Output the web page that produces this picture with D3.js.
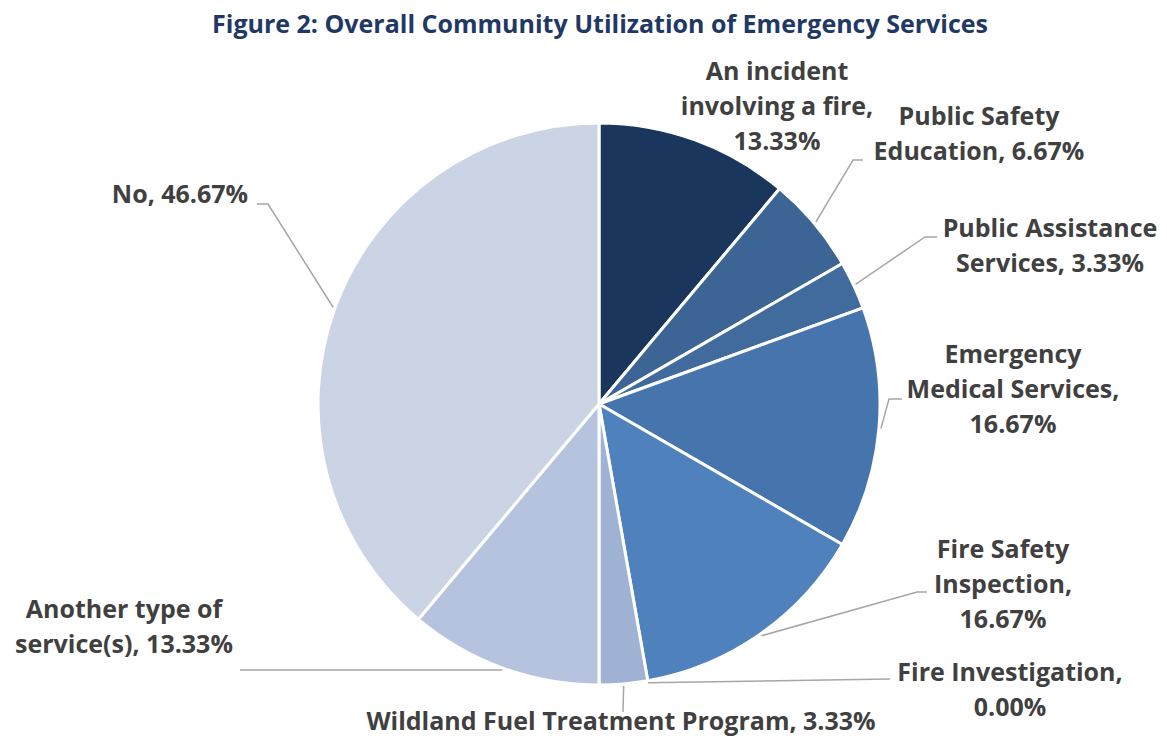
<!DOCTYPE html>
<html>
<head>
<meta charset="utf-8">
<script src="https://cdn.jsdelivr.net/npm/d3@7"></script>
<style>
  html, body { margin: 0; padding: 0; background: #ffffff; }
  svg { display: block; }
  text { font-family: "Open Sans", Lato, sans-serif; font-weight: 700; }
</style>
</head>
<body>
<svg id="chart" width="1167" height="740"></svg>
<script>
// ---- Data ----
const title = "Figure 2: Overall Community Utilization of Emergency Services";
const categories = [
  "An incident involving a fire",
  "Public Safety Education",
  "Public Assistance Services",
  "Emergency Medical Services",
  "Fire Safety Inspection",
  "Fire Investigation",
  "Wildland Fuel Treatment Program",
  "Another type of service(s)",
  "No"
];
const values = [13.33, 6.67, 3.33, 16.67, 16.67, 0.00, 3.33, 13.33, 46.67];
const colors = ["#1a365d", "#3c6494", "#416a9d", "#4674ac", "#4f81bd", "#8ea7d0", "#9fb2d4", "#b5c3de", "#cbd4e5"];
// label line breaks (text content)
const labelLines = [
  ["An incident", "involving a fire,", "13.33%"],
  ["Public Safety", "Education, 6.67%"],
  ["Public Assistance", "Services, 3.33%"],
  ["Emergency", "Medical Services,", "16.67%"],
  ["Fire Safety", "Inspection,", "16.67%"],
  ["Fire Investigation,", "0.00%"],
  ["Wildland Fuel Treatment Program, 3.33%"],
  ["Another type of", "service(s), 13.33%"],
  ["No, 46.67%"]
];

// ---- Layout (positions only) ----
const cx = 599, cy = 404, R = 281;
// label centre x and first baseline y
const labelPos = [
  [777, 80], [979, 125], [1050, 237], [1013, 363], [1003, 558],
  [1010, 681], [621, 730], [124, 618], [180, 203]
];
// leader: [elbowX, elbowY, endX, endY] or null
const leaderPos = [
  null,
  [853, 160, 863, 160],
  [925, 237, 937, 237],
  [889, 399, 902, 399],
  [917, 592, 927, 592],
  [890, 679, 890, 679],
  [623, 712, 623, 712],
  [240, 670, 240, 670],
  [268, 204, 257, 204]
];

const data = categories.map((c, i) => ({ name: c, value: values[i], color: colors[i], lines: labelLines[i], pos: labelPos[i], leader: leaderPos[i] }));

const svg = d3.select("#chart");

svg.append("text")
  .attr("x", 600).attr("y", 33)
  .attr("text-anchor", "middle")
  .attr("fill", "#1f3864")
  .style("font-size", "25px")
  .text(title);

const pie = d3.pie().sort(null).value(d => d.value).startAngle(0).endAngle(2 * Math.PI);
const arcs = pie(data);
const arc = d3.arc().innerRadius(0).outerRadius(R);

const g = svg.append("g").attr("transform", `translate(${cx},${cy})`);

g.selectAll("path.slice")
  .data(arcs.filter(a => a.data.value > 0))
  .join("path")
  .attr("class", "slice")
  .attr("d", arc)
  .attr("fill", d => d.data.color)
  .attr("stroke", "#ffffff")
  .attr("stroke-width", 3)
  .attr("stroke-linejoin", "round");

// leader lines
arcs.forEach(a => {
  const L = a.data.leader;
  if (!L) return;
  const mid = (a.startAngle + a.endAngle) / 2;
  const r0 = R + 2;
  const sx = cx + r0 * Math.sin(mid), sy = cy - r0 * Math.cos(mid);
  const pts = [[sx, sy], [L[0], L[1]], [L[2], L[3]]];
  svg.append("path")
    .attr("d", d3.line()(pts))
    .attr("fill", "none")
    .attr("stroke", "#a6a6a6")
    .attr("stroke-width", 1.5);
});

// labels
arcs.forEach(a => {
  const t = svg.append("text")
    .attr("text-anchor", "middle")
    .attr("fill", "#404040")
    .style("font-size", "25px");
  a.data.lines.forEach((ln, k) => {
    t.append("tspan")
      .attr("x", a.data.pos[0])
      .attr("y", a.data.pos[1] + k * 35)
      .text(ln);
  });
});
</script>
</body>
</html>
